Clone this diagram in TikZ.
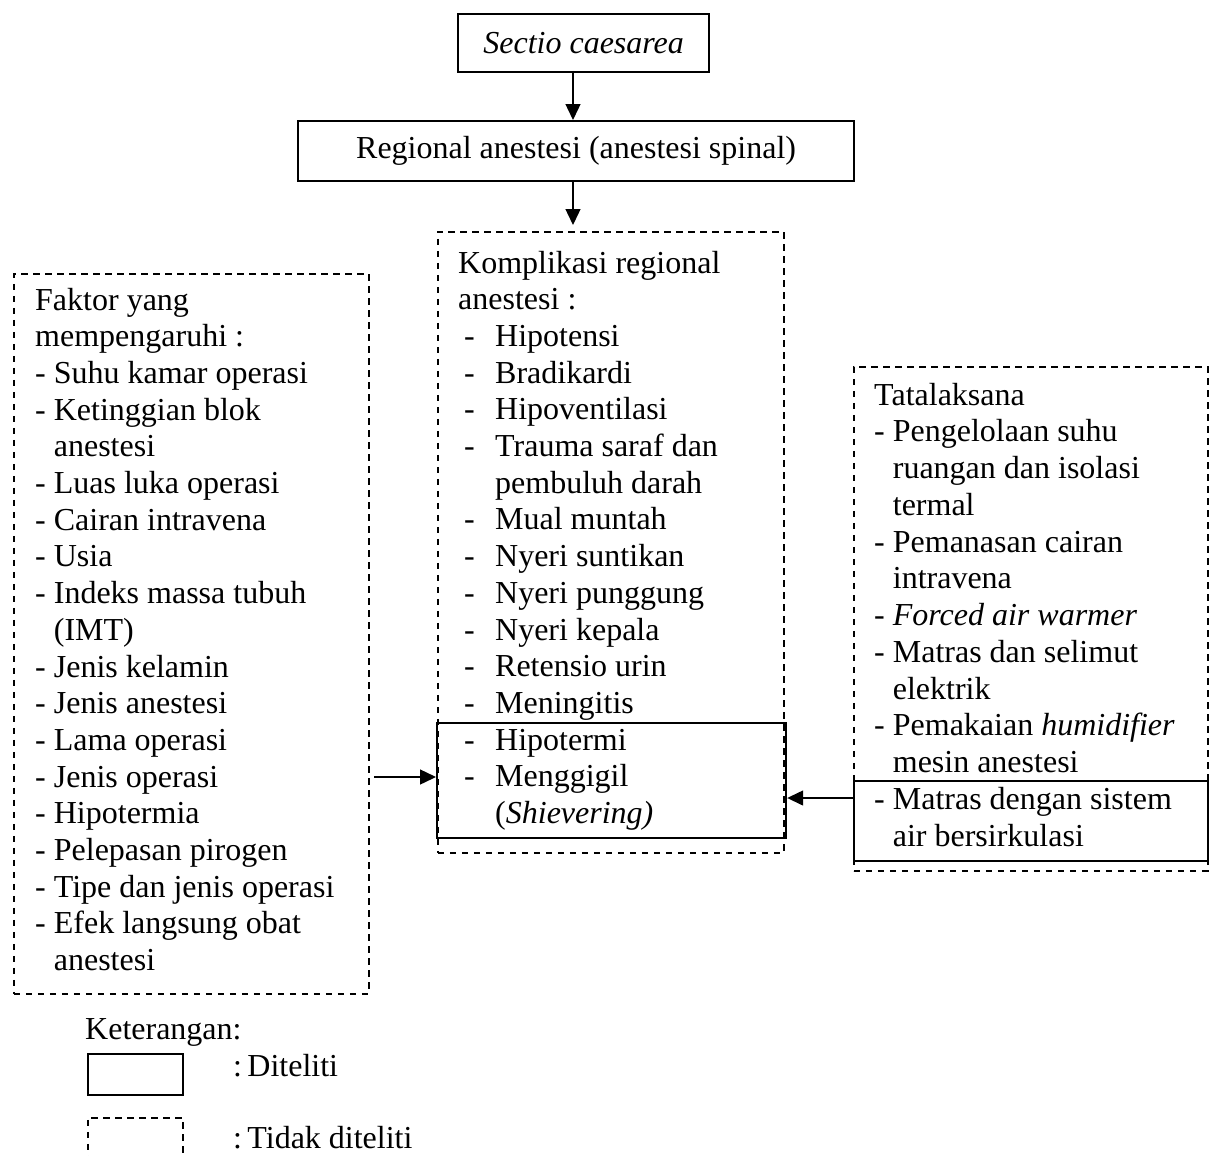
\documentclass[tikz,border=0pt]{standalone}
\usepackage{fontspec}
\setmainfont{Liberation Serif}
\usetikzlibrary{arrows.meta}
\tikzset{
  txt/.style={inner sep=0pt, anchor=base west, font=\fontsize{32}{36.7}\selectfont},
  solidbox/.style={draw, line width=2.2pt, inner sep=0pt, anchor=north west, font=\fontsize{32}{36.7}\selectfont},
  dashbox/.style={draw, line width=1.8pt, dash pattern=on 6.5pt off 5.5pt, inner sep=0pt, anchor=north west},
  conn/.style={line width=1.4pt, -{Triangle[length=16pt,width=15pt]}}
}
\newcommand{\dd}{\hspace*{6pt}\makebox[31pt][l]{-}}
\begin{document}
\begin{tikzpicture}[x=1pt,y=-1pt]
\useasboundingbox (0,0) rectangle (1215,1156);
% top boxes
\node[solidbox, minimum width=251pt, minimum height=58pt] (sc) at (457,13) {\textit{Sectio caesarea}};
\node[solidbox, minimum width=556pt, minimum height=60pt] (reg) at (297,120) {Regional anestesi (anestesi spinal)};
% komplikasi
\node[dashbox, minimum width=346pt, minimum height=621pt] (kd) at (437,231) {};
\node[solidbox, minimum width=349pt, minimum height=115pt] (ks) at (436,722) {};
% faktor
\node[dashbox, minimum width=355pt, minimum height=720pt] (fd) at (13,273) {};
% tatalaksana
\node[dashbox, minimum width=354pt, minimum height=504pt] (td) at (853,366) {};
\node[solidbox, minimum width=354pt, minimum height=80pt] (ts) at (853,780) {};
% texts
\foreach \t [count=\i from 0] in {Faktor yang, mempengaruhi :, - Suhu kamar operasi, - Ketinggian blok, \phantom{- }anestesi, - Luas luka operasi, - Cairan intravena, - Usia, - Indeks massa tubuh, \phantom{- }(IMT), - Jenis kelamin, - Jenis anestesi, - Lama operasi, - Jenis operasi, - Hipotermia, - Pelepasan pirogen, - Tipe dan jenis operasi, - Efek langsung obat, \phantom{- }anestesi}
  \node[txt] (f\i) at (35,{310+36.7*\i}) {\t};
\foreach \t [count=\i from 0] in {Komplikasi regional, anestesi :, \dd Hipotensi, \dd Bradikardi, \dd Hipoventilasi, \dd Trauma saraf dan, \hspace*{37pt}pembuluh darah, \dd Mual muntah, \dd Nyeri suntikan, \dd Nyeri punggung, \dd Nyeri kepala, \dd Retensio urin, \dd Meningitis, \dd Hipotermi, \dd Menggigil, \hspace*{37pt}(\textit{Shievering)}}
  \node[txt] (k\i) at (458,{273+36.7*\i}) {\t};
\foreach \t [count=\i from 0] in {Tatalaksana, - Pengelolaan suhu, \phantom{- }ruangan dan isolasi, \phantom{- }termal, - Pemanasan cairan, \phantom{- }intravena, - \textit{Forced air warmer}, - Matras dan selimut, \phantom{- }elektrik, - Pemakaian \textit{humidifier}, \phantom{- }mesin anestesi, - Matras dengan sistem, \phantom{- }air bersirkulasi}
  \node[txt] (t\i) at (874,{405+36.75*\i}) {\t};
% connectors
\coordinate (a1) at (573,71);
\draw[conn] (a1) -- (a1 |- reg.north);
\coordinate (a2) at (573,180);
\draw[conn, shorten >=6pt] (a2) -- (a2 |- kd.north);
\coordinate (fa) at (374,777);
\draw[conn] (fa) -- (fa -| ks.west);
\coordinate (ta) at (853,798);
\draw[conn] (ta) -- (ta -| ks.east);
% legend
\node[txt] (ket) at (85,1039) {Keterangan:};
\node[solidbox, minimum width=95pt, minimum height=41pt] (ls) at (87,1053) {};
\node[txt] (lst) at (233,1076) {:\,Diteliti};
\node[dashbox, minimum width=95pt, minimum height=60pt] (ld) at (87,1117) {};
\node[txt] (ldt) at (233,1148) {:\,Tidak diteliti};
\end{tikzpicture}
\end{document}
